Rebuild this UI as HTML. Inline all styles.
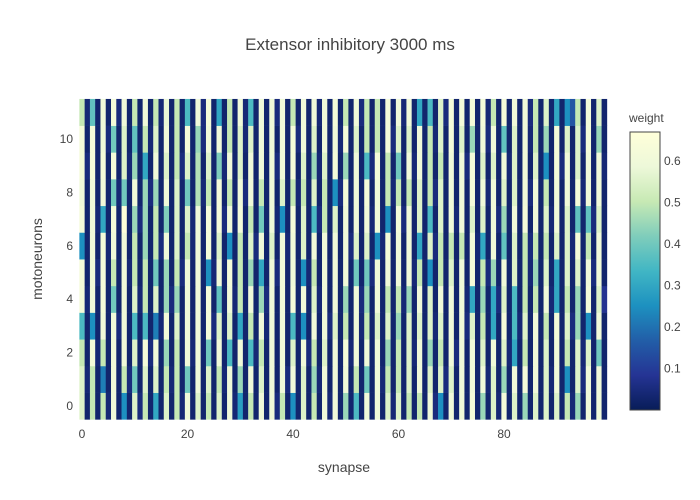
<!DOCTYPE html>
<html><head><meta charset="utf-8"><style>
body{margin:0;background:#fff;font-family:"Liberation Sans",sans-serif;}
</style></head><body>
<svg id="chart" width="700" height="500" xmlns="http://www.w3.org/2000/svg" style="display:block">
<rect width="700" height="500" fill="#fff"/>
<text x="350" y="50" text-anchor="middle" font-size="17" fill="#444">Extensor inhibitory 3000 ms</text>
<g id="cells"></g>
<g id="xaxis"></g>
<g id="yaxis"></g>
<text x="344" y="472" text-anchor="middle" font-size="14" fill="#444">synapse</text>
<text transform="translate(42,259) rotate(-90)" text-anchor="middle" font-size="14" fill="#444">motoneurons</text>
<defs><linearGradient id="cbg" x1="0" y1="1" x2="0" y2="0">
<stop offset="0" stop-color="rgb(8,29,88)"/><stop offset="0.125" stop-color="rgb(37,52,148)"/><stop offset="0.25" stop-color="rgb(34,94,168)"/><stop offset="0.375" stop-color="rgb(29,145,192)"/><stop offset="0.5" stop-color="rgb(65,182,196)"/><stop offset="0.625" stop-color="rgb(127,205,187)"/><stop offset="0.75" stop-color="rgb(199,233,180)"/><stop offset="0.875" stop-color="rgb(237,248,217)"/><stop offset="1" stop-color="rgb(255,255,217)"/></linearGradient></defs>
<text x="629" y="122" font-size="12" fill="#444">weight</text>
<rect x="630" y="132" width="30" height="278" fill="url(#cbg)" stroke="#444" stroke-width="1"/>
<g id="cbticks"></g>
</svg>
<script>
const zmin = 0, zmax = 0.67;
const xTicks = [0, 20, 40, 60, 80];
const yTicks = [0, 2, 4, 6, 8, 10];
const cbTicks = [0.1, 0.2, 0.3, 0.4, 0.5, 0.6];
// even-column weights, rows 0..11 (bottom to top)
const evenR0 = [.55,.5,.5,.6,.25,.55,.5,.3,.55,.5,.6,.55,.5, .55,.6,.28,.5,.6,.6,.5,.25,.55,.5,.6,.6, .45,.35,.6,.6,.55,.55,.5,.5,.6,.25,.6,.6, .62,.45,.55,.62,.55,.45,.55,.55,.55,.5,.45,.6,.6];
const evenR1 = [.55,.5,.22,.6,.5,.4,.55,.55,.5,.5,.4,.6,.55, .5,.6,.45,.6,.55,.6,.6,.6,.55,.45,.6,.6, .6,.5,.4,.6,.5,.5,.55,.6,.55,.55,.55,.6, .6,.6,.55,.45,.6,.62,.6,.55,.6,.25,.55,.6,.6];
const evenR2 = [.5,.62,.5,.6,.6,.55,.62,.6,.45,.5,.6,.6,.4, .6,.35,.6,.35,.5,.6,.6,.55,.6,.5,.55,.6, .62,.6,.6,.6,.45,.5,.55,.6,.45,.5,.6,.6, .6,.55,.6,.55,.3,.5,.6,.55,.6,.5,.55,.55,.4];
const evenR3 = [.35,.25,.6,.6,.6,.35,.35,.22,.62,.55,.6,.6,.62, .55,.55,.3,.5,.6,.6,.6,.35,.25,.6,.6,.55, .5,.6,.5,.55,.55,.45,.55,.55,.55,.55,.6,.6, .55,.5,.3,.62,.35,.55,.6,.5,.62,.55,.45,.25,.6];
const evenR4 = [.62,.6,.62,.4,.6,.55,.5,.55,.45,.45,.6,.6,.62, .38,.6,.5,.6,.45,.6,.6,.62,.6,.55,.6,.6, .45,.6,.45,.6,.5,.5,.45,.6,.55,.6,.6,.6, .3,.45,.3,.55,.35,.5,.5,.6,.3,.5,.45,.62,.55];
const evenR5 = [.62,.6,.62,.5,.6,.5,.5,.4,.45,.5,.6,.6,.25, .6,.62,.5,.45,.3,.6,.6,.6,.25,.5,.6,.6, .6,.4,.4,.6,.6,.6,.6,.5,.25,.5,.55,.6, .62,.5,.45,.6,.55,.5,.45,.55,.3,.55,.55,.6,.6];
const evenR6 = [.25,.6,.62,.6,.6,.5,.45,.5,.6,.55,.5,.6,.62, .55,.25,.5,.55,.6,.55,.6,.6,.55,.6,.6,.6, .6,.55,.55,.25,.62,.6,.6,.3,.55,.5,.5,.5, .62,.3,.6,.38,.55,.5,.5,.5,.55,.55,.62,.5,.6];
const evenR7 = [.62,.6,.3,.62,.66,.45,.45,.5,.42,.55,.55,.6,.62, .62,.6,.62,.5,.4,.6,.25,.62,.55,.35,.5,.55, .6,.6,.6,.6,.25,.62,.6,.55,.35,.55,.6,.6, .55,.55,.6,.45,.6,.62,.6,.55,.6,.55,.38,.38,.55];
const evenR8 = [.6,.6,.6,.4,.4,.6,.45,.45,.6,.55,.4,.48,.5, .62,.5,.6,.6,.5,.6,.55,.5,.5,.55,.5,.25, .62,.6,.62,.6,.5,.5,.5,.55,.5,.55,.6,.6, .62,.6,.6,.55,.55,.6,.6,.5,.6,.6,.62,.6,.6];
const evenR9 = [.62,.62,.62,.62,.55,.45,.3,.6,.55,.5,.55,.48,.55, .42,.6,.55,.6,.6,.6,.6,.62,.55,.45,.55,.62, .45,.6,.35,.62,.5,.4,.6,.6,.5,.5,.6,.6, .62,.55,.55,.6,.55,.6,.55,.25,.62,.6,.55,.6,.6];
const evenR10 = [.62,.62,.6,.4,.55,.38,.5,.55,.6,.5,.62,.45,.6, .6,.5,.55,.55,.6,.6,.6,.62,.6,.55,.6,.6, .62,.55,.5,.5,.62,.55,.55,.6,.5,.55,.62,.55, .45,.6,.6,.38,.55,.6,.5,.45,.62,.55,.55,.62,.45];
const evenR11 = [.5,.38,.6,.62,.6,.5,.6,.5,.58,.5,.35,.6,.62, .3,.5,.6,.35,.6,.6,.6,.5,.6,.6,.6,.62, .5,.6,.5,.5,.62,.6,.6,.3,.35,.55,.62,.62, .62,.62,.5,.62,.6,.6,.5,.55,.3,.25,.5,.62,.55];
// odd-column weights (mostly near zero), rows 0..11
const oddR0 = [.03,.03,.04,.03,.03,.05,.03,.03,.03,.04,.03,.03,.03,.03,.04,.03,.03,.03,.05,.03,.03,.03,.03,.04,.03,.03,.03,.03,.03,.04,.03,.03,.03,.05,.03,.03,.03,.03,.03,.04,.03,.03,.03,.03,.03,.03,.04,.03,.03,.03];
const oddR1 = [.04,.03,.03,.03,.05,.03,.03,.03,.04,.03,.03,.03,.03,.04,.03,.03,.03,.03,.03,.05,.03,.03,.04,.03,.03,.03,.03,.03,.04,.03,.03,.03,.03,.03,.05,.03,.03,.03,.04,.03,.03,.03,.03,.03,.04,.03,.03,.05,.03,.03];
const oddR2 = [.03,.04,.03,.03,.03,.03,.05,.03,.03,.03,.04,.03,.03,.03,.03,.03,.04,.03,.03,.03,.03,.05,.03,.03,.03,.04,.03,.03,.03,.03,.03,.04,.03,.03,.03,.05,.03,.03,.03,.03,.04,.03,.03,.03,.03,.03,.03,.04,.03,.03];
const oddR3 = [.03,.03,.03,.05,.03,.03,.03,.04,.03,.03,.03,.03,.05,.03,.03,.03,.03,.04,.03,.03,.03,.03,.03,.05,.03,.03,.04,.03,.03,.03,.03,.03,.03,.04,.03,.03,.05,.03,.03,.03,.03,.04,.03,.03,.03,.03,.05,.03,.03,.03];
const oddR4 = [.04,.03,.03,.03,.03,.04,.03,.03,.05,.03,.03,.03,.03,.03,.04,.03,.03,.05,.03,.03,.03,.03,.04,.03,.03,.03,.05,.03,.03,.03,.04,.03,.03,.03,.03,.03,.04,.03,.03,.05,.03,.03,.03,.03,.04,.03,.03,.03,.03,.08];
const oddR5 = [.03,.05,.03,.03,.04,.03,.03,.03,.03,.05,.03,.03,.04,.03,.03,.03,.03,.03,.05,.03,.03,.04,.03,.03,.03,.03,.03,.05,.03,.03,.03,.04,.03,.03,.03,.03,.03,.03,.05,.03,.03,.03,.04,.03,.03,.03,.03,.03,.05,.03];
const oddR6 = [.03,.03,.04,.03,.03,.03,.03,.05,.03,.03,.04,.03,.03,.03,.03,.03,.05,.03,.03,.04,.03,.03,.03,.03,.03,.05,.03,.03,.04,.03,.03,.03,.03,.05,.03,.03,.03,.04,.03,.03,.03,.03,.05,.03,.03,.03,.04,.03,.03,.03];
const oddR7 = [.03,.04,.03,.03,.03,.05,.03,.03,.03,.03,.04,.03,.03,.05,.03,.03,.03,.03,.04,.03,.03,.03,.05,.03,.03,.03,.03,.04,.03,.03,.05,.03,.03,.03,.03,.04,.03,.03,.03,.05,.03,.03,.03,.03,.04,.03,.03,.03,.05,.03];
const oddR8 = [.03,.03,.03,.04,.03,.03,.05,.03,.03,.03,.03,.04,.03,.03,.03,.05,.03,.03,.03,.03,.04,.03,.03,.03,.05,.03,.03,.03,.03,.04,.03,.03,.03,.05,.03,.03,.03,.03,.04,.03,.03,.03,.05,.03,.03,.03,.03,.04,.03,.03];
const oddR9 = [.05,.03,.03,.03,.04,.03,.03,.03,.03,.05,.03,.03,.03,.04,.03,.03,.03,.03,.05,.03,.03,.03,.04,.03,.03,.03,.03,.05,.03,.03,.03,.04,.03,.03,.03,.03,.05,.03,.03,.03,.04,.03,.03,.03,.03,.05,.03,.03,.03,.04];
const oddR10 = [.03,.03,.05,.03,.03,.03,.04,.03,.03,.03,.03,.05,.03,.03,.03,.04,.03,.03,.03,.03,.05,.03,.03,.03,.04,.03,.03,.03,.03,.05,.03,.03,.03,.04,.03,.03,.03,.03,.05,.03,.03,.03,.04,.03,.03,.03,.03,.05,.03,.03];
const oddR11 = [.04,.03,.03,.05,.03,.03,.03,.04,.03,.03,.03,.05,.03,.03,.03,.04,.03,.03,.05,.03,.03,.03,.04,.03,.03,.03,.05,.03,.03,.03,.04,.03,.03,.03,.05,.03,.03,.03,.04,.03,.03,.03,.05,.03,.03,.03,.15,.03,.03,.03];

const evenRows = [evenR0,evenR1,evenR2,evenR3,evenR4,evenR5,evenR6,evenR7,evenR8,evenR9,evenR10,evenR11];
const oddRows = [oddR0,oddR1,oddR2,oddR3,oddR4,oddR5,oddR6,oddR7,oddR8,oddR9,oddR10,oddR11];

const NS = "http://www.w3.org/2000/svg";
const X0 = 82, XS = 5.275, Y0 = 406, YS = 26.7;
const xPos = v => X0 + v * XS;
const yPos = v => Y0 - v * YS;
const stops = [[0,[8,29,88]],[0.125,[37,52,148]],[0.25,[34,94,168]],[0.375,[29,145,192]],[0.5,[65,182,196]],[0.625,[127,205,187]],[0.75,[199,233,180]],[0.875,[237,248,217]],[1,[255,255,217]]];
function color(v){
  let t = Math.max(0, Math.min(1, (v - zmin) / (zmax - zmin)));
  for (let i = 1; i < stops.length; i++) {
    if (t <= stops[i][0]) {
      const a = stops[i-1], b = stops[i], f = (t - a[0]) / (b[0] - a[0]);
      const c = a[1].map((x, k) => Math.round(x + (b[1][k] - x) * f));
      return `rgb(${c[0]},${c[1]},${c[2]})`;
    }
  }
  return "rgb(255,255,217)";
}
const cells = document.getElementById('cells');
for (let r = 0; r < 12; r++) {
  for (let c = 0; c < 100; c++) {
    const v = (c % 2 === 0) ? evenRows[r][c / 2] : oddRows[r][(c - 1) / 2];
    const rect = document.createElementNS(NS, 'rect');
    
    
    const x1 = xPos(c - 0.5), x2 = xPos(c + 0.5);
    const y1 = yPos(r + 0.5), y2 = yPos(r - 0.5);
    rect.setAttribute('x', x1); rect.setAttribute('y', y1);
    rect.setAttribute('width', x2 - x1 + 0.3); rect.setAttribute('height', y2 - y1 + 0.3);
    rect.setAttribute('fill', color(v));
    cells.appendChild(rect);
  }
}
const xa = document.getElementById('xaxis');
xTicks.forEach(t => {
  const tx = document.createElementNS(NS, 'text');
  
  
  tx.setAttribute('x', xPos(t)); tx.setAttribute('y', 438);
  tx.setAttribute('text-anchor', 'middle'); tx.setAttribute('font-size', '12'); tx.setAttribute('fill', '#444');
  tx.textContent = t; xa.appendChild(tx);
});
const ya = document.getElementById('yaxis');
yTicks.forEach(t => {
  const tx = document.createElementNS(NS, 'text');
  
  
  tx.setAttribute('x', 73); tx.setAttribute('y', yPos(t) + 4);
  tx.setAttribute('text-anchor', 'end'); tx.setAttribute('font-size', '12'); tx.setAttribute('fill', '#444');
  tx.textContent = t; ya.appendChild(tx);
});
const cb = document.getElementById('cbticks');
cbTicks.forEach(t => {
  const y = 410 - (t - zmin) / (zmax - zmin) * 278;
  const tx = document.createElementNS(NS, 'text');
  
  
  tx.setAttribute('x', 664); tx.setAttribute('y', y + 4);
  tx.setAttribute('font-size', '12'); tx.setAttribute('fill', '#444');
  tx.textContent = t.toFixed(1); cb.appendChild(tx);
});
</script>
</body></html>
